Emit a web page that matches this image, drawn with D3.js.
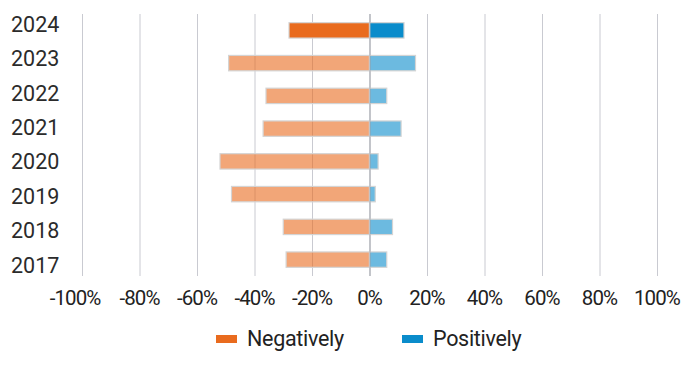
<!DOCTYPE html>
<html><head><meta charset="utf-8">
<script src="https://cdn.jsdelivr.net/npm/d3@7"></script>
<style>
html,body{margin:0;padding:0;background:#fff;}
svg{display:block;font-family:Roboto,"Noto Sans",sans-serif;}
</style></head>
<body><svg id="c" width="693" height="378"></svg>
<script>
const years = ["2024","2023","2022","2021","2020","2019","2018","2017"];
const negatively = [-28,-49,-36,-37,-52,-48,-30,-29];
const positively = [12,16,6,11,3,2,8,6];
const xTicks = [-100,-80,-60,-40,-20,0,20,40,60,80,100];
const seriesNames = ["Negatively","Positively"];
const seriesColors = ["#E96B1E","#0A8CCB"];

const svg = d3.select("#c");
const x = d3.scaleLinear().domain([-100,100]).range([82,657]);
const y = d3.scaleBand().domain(years).range([14,276]).paddingInner(0.53).paddingOuter(0.265);
const yLab = d3.scaleBand().domain(years).range([7,282]);

// gridlines
svg.append("g").selectAll("line").data(xTicks).join("line")
  .attr("x1",d=>x(d)+0.5).attr("x2",d=>x(d)+0.5)
  .attr("y1",14).attr("y2",276)
  .attr("stroke",d=>d===0?"#a9abb3":"#c9cad1").attr("stroke-width",1);

// bars
const rows = years.map((yr,i)=>({yr,neg:negatively[i],pos:positively[i],i}));
const g = svg.append("g");
g.selectAll("rect.neg").data(rows).join("rect").attr("class","neg")
  .attr("x",d=>x(d.neg)).attr("width",d=>x(0)-x(d.neg))
  .attr("y",d=>y(d.yr)).attr("height",y.bandwidth())
  .attr("fill",seriesColors[0]).attr("fill-opacity",d=>d.i===0?1:0.6)
  .attr("stroke","#d4d4d4").attr("stroke-width",1.2);
g.selectAll("rect.pos").data(rows).join("rect").attr("class","pos")
  .attr("x",x(0)).attr("width",d=>x(d.pos)-x(0))
  .attr("y",d=>y(d.yr)).attr("height",y.bandwidth())
  .attr("fill",seriesColors[1]).attr("fill-opacity",d=>d.i===0?1:0.6)
  .attr("stroke","#d4d4d4").attr("stroke-width",1.2);

// zero line on top
svg.append("line").attr("x1",x(0)+0.5).attr("x2",x(0)+0.5).attr("y1",14).attr("y2",276)
  .attr("stroke","#a9abb3").attr("stroke-opacity",0.8);

// year labels
svg.append("g").selectAll("text").data(years).join("text")
  .attr("x",11).attr("y",d=>yLab(d)+yLab.bandwidth()/2)
  .attr("dy","0.36em").attr("font-size",21.5).attr("fill","#2b2b2b")
  .text(d=>d);

// x tick labels
svg.append("g").selectAll("text").data(xTicks).join("text")
  .attr("x",d=>x(d)).attr("dx",d=>d===-100?-7:0).attr("y",305).attr("text-anchor","middle")
  .attr("font-size",20.5).attr("letter-spacing","-0.9").attr("fill","#222")
  .text(d=>d+"%");

// legend
const legX = [216,402];
const lg = svg.append("g").selectAll("g").data(seriesNames).join("g")
  .attr("transform",(d,i)=>`translate(${legX[i]},0)`);
lg.append("rect").attr("x",0).attr("y",335).attr("width",21).attr("height",8)
  .attr("fill",(d,i)=>seriesColors[i]);
lg.append("text").attr("x",31).attr("y",346).attr("font-size",21.5)
  .attr("letter-spacing","-0.3").attr("fill","#222").text(d=>d);
</script></body></html>
